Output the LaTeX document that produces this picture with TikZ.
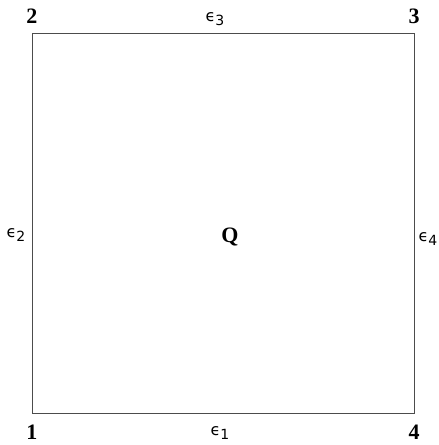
\documentclass[tikz,border=0pt]{standalone}
\usepackage{fontspec}
\setmainfont{Liberation Serif}
\newfontfamily\epsfont{DejaVu Sans}
\newcommand{\epslab}[1]{{\epsfont\fontsize{16}{16}\selectfont ϵ\raisebox{-4pt}{\fontsize{14}{14}\selectfont #1}}}
\begin{document}
\begin{tikzpicture}[x=1pt,y=-1pt,
  corner/.style={font=\fontsize{22}{22}\selectfont\bfseries, inner sep=0pt},
  edgelab/.style={inner sep=0pt},
  box/.style={draw=black!70, line width=1pt}]
\useasboundingbox (0,0) rectangle (439,445);
\coordinate (c1) at (32,413);
\coordinate (c2) at (32,33);
\coordinate (c3) at (414,33);
\coordinate (c4) at (414,413);
\draw[box] (c1) -- (c2) -- (c3) -- (c4) -- cycle;
\node[corner] (n2) at (32,16) {2};
\node[corner] (n3) at (414,16) {3};
\node[corner] (n1) at (32,432) {1};
\node[corner] (n4) at (414,432) {4};
\node[edgelab] (e3) at (215,19) {\epslab{3}};
\node[edgelab] (e1) at (220,433) {\epslab{1}};
\node[edgelab] (e2) at (16,235) {\epslab{2}};
\node[edgelab] (e4) at (428,239) {\epslab{4}};
\node[corner] (q) at (230,237) {Q};
\end{tikzpicture}
\end{document}
